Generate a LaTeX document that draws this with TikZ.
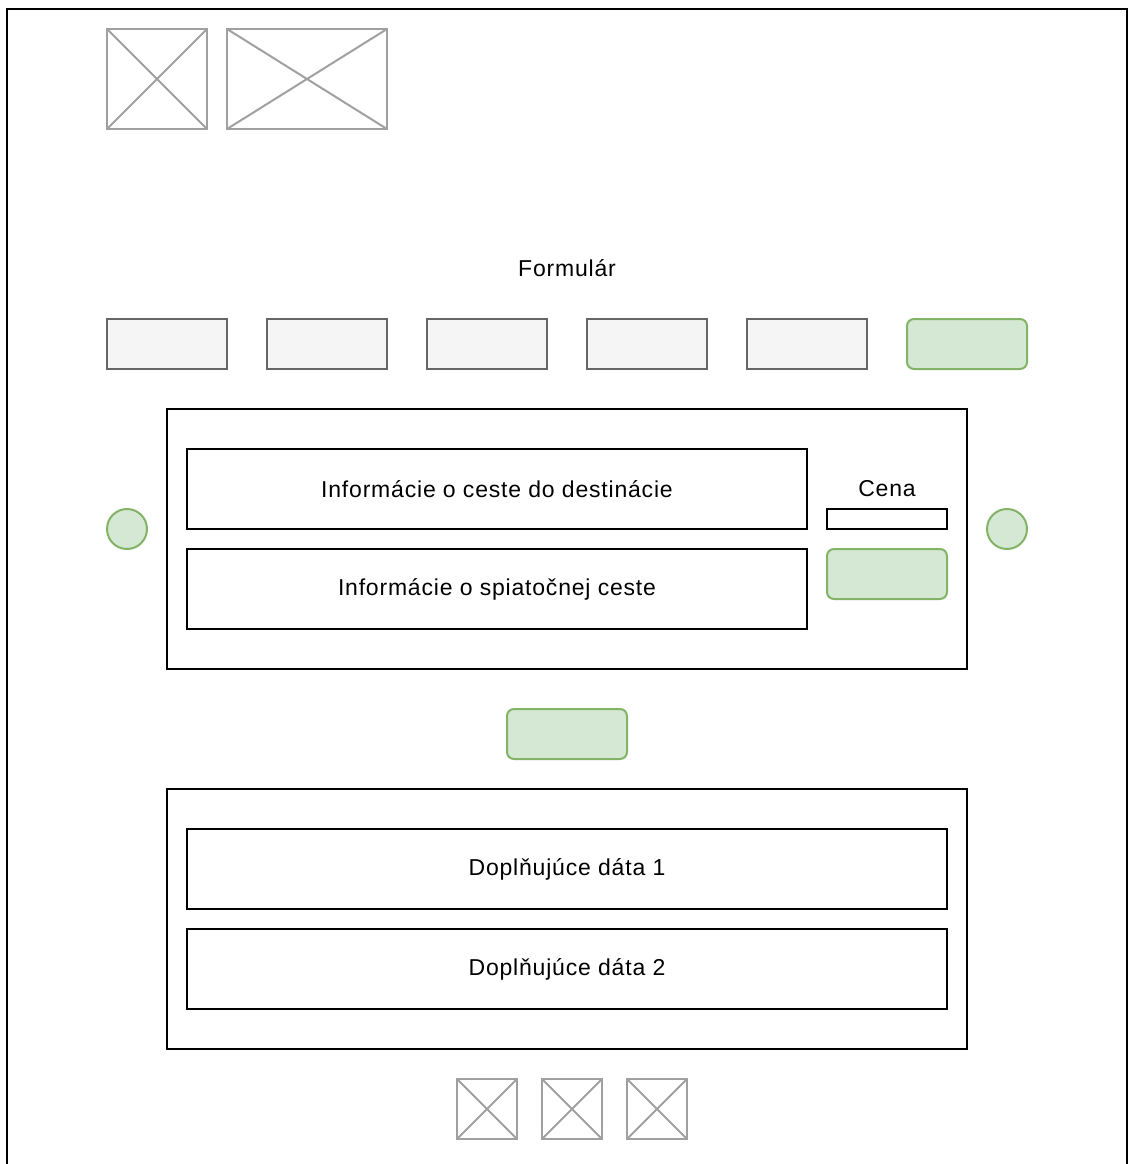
\documentclass[tikz,border=0pt]{standalone}
\usepackage{fontspec}
\setmainfont{Liberation Sans}
\newfontfamily\uifont[LetterSpace=3.5]{Liberation Sans}
\usetikzlibrary{positioning}

\definecolor{tabfill}{HTML}{F5F5F5}
\definecolor{tabline}{HTML}{666666}
\definecolor{okfill}{HTML}{D5E8D4}
\definecolor{okline}{HTML}{82B366}
\definecolor{imgline}{HTML}{A0A0A0}

\begin{document}
\begin{tikzpicture}[x=1pt,y=-1pt]

\tikzset{box/.style = {draw,line width=2pt,inner sep=0pt,font=\uifont\fontsize{23}{27}\selectfont}}
\tikzset{tab/.style = {box,draw=tabline,fill=tabfill,minimum width=120pt,minimum height=50pt}}
\tikzset{btn/.style = {box,draw=okline,fill=okfill,rounded corners=7pt,minimum width=120pt,minimum height=50pt}}
\tikzset{dot/.style = {circle,draw=okline,fill=okfill,line width=2pt,minimum size=40pt,inner sep=0pt}}
\tikzset{img/.style = {draw=imgline,line width=2pt,inner sep=0pt,
  path picture={\draw[imgline,line width=2pt] (path picture bounding box.north west) -- (path picture bounding box.south east)
    (path picture bounding box.south west) -- (path picture bounding box.north east);}}}
\tikzset{txt/.style = {inner sep=0pt,font=\uifont\fontsize{23}{27}\selectfont}}

\useasboundingbox (0,0) rectangle (1128,1164);
\clip (0,0) rectangle (1128,1164);
%page
\draw[line width=2pt] (7,1200) -- (7,9) -- (1127,9) -- (1127,1200);

%header
\node[img, minimum width=100pt, minimum height=100pt] (logo) at (157,79) {};
\node[img, minimum width=160pt, minimum height=100pt] (banner) at (307,79) {};
\node[txt] (title) at (567,268) {Formulár};

%tabs
\node[tab] (t1) at (167,344) {};
\node[tab] (t2) at (327,344) {};
\node[tab] (t3) at (487,344) {};
\node[tab] (t4) at (647,344) {};
\node[tab] (t5) at (807,344) {};
\node[btn] (t6) at (967,344) {};

%trip
\node[box, minimum width=800pt, minimum height=260pt] (trip) at (567,539) {};
\node[box, minimum width=620pt, minimum height=80pt] (there) at (497,489) {Informácie o ceste do destinácie};
\node[box, minimum width=620pt, minimum height=80pt] (back) at (497,589) {Informácie o spiatočnej ceste};
\node[txt] (price) at (887,489) {Cena};
\node[box, minimum width=120pt, minimum height=20pt] (pricebox) at (887,519) {};
\node[btn] (buy) at (887,574) {};
\node[dot] (prev) at (127,529) {};
\node[dot] (next) at (1007,529) {};

\node[btn] (more) at (567,734) {};

%extra
\node[box, minimum width=800pt, minimum height=260pt] (extra) at (567,919) {};
\node[box, minimum width=760pt, minimum height=80pt] (data1) at (567,869) {Doplňujúce dáta 1};
\node[box, minimum width=760pt, minimum height=80pt] (data2) at (567,969) {Doplňujúce dáta 2};

%footer
\node[img, minimum width=60pt, minimum height=60pt] (f1) at (487,1109) {};
\node[img, minimum width=60pt, minimum height=60pt] (f2) at (572,1109) {};
\node[img, minimum width=60pt, minimum height=60pt] (f3) at (657,1109) {};

\end{tikzpicture}
\end{document}
